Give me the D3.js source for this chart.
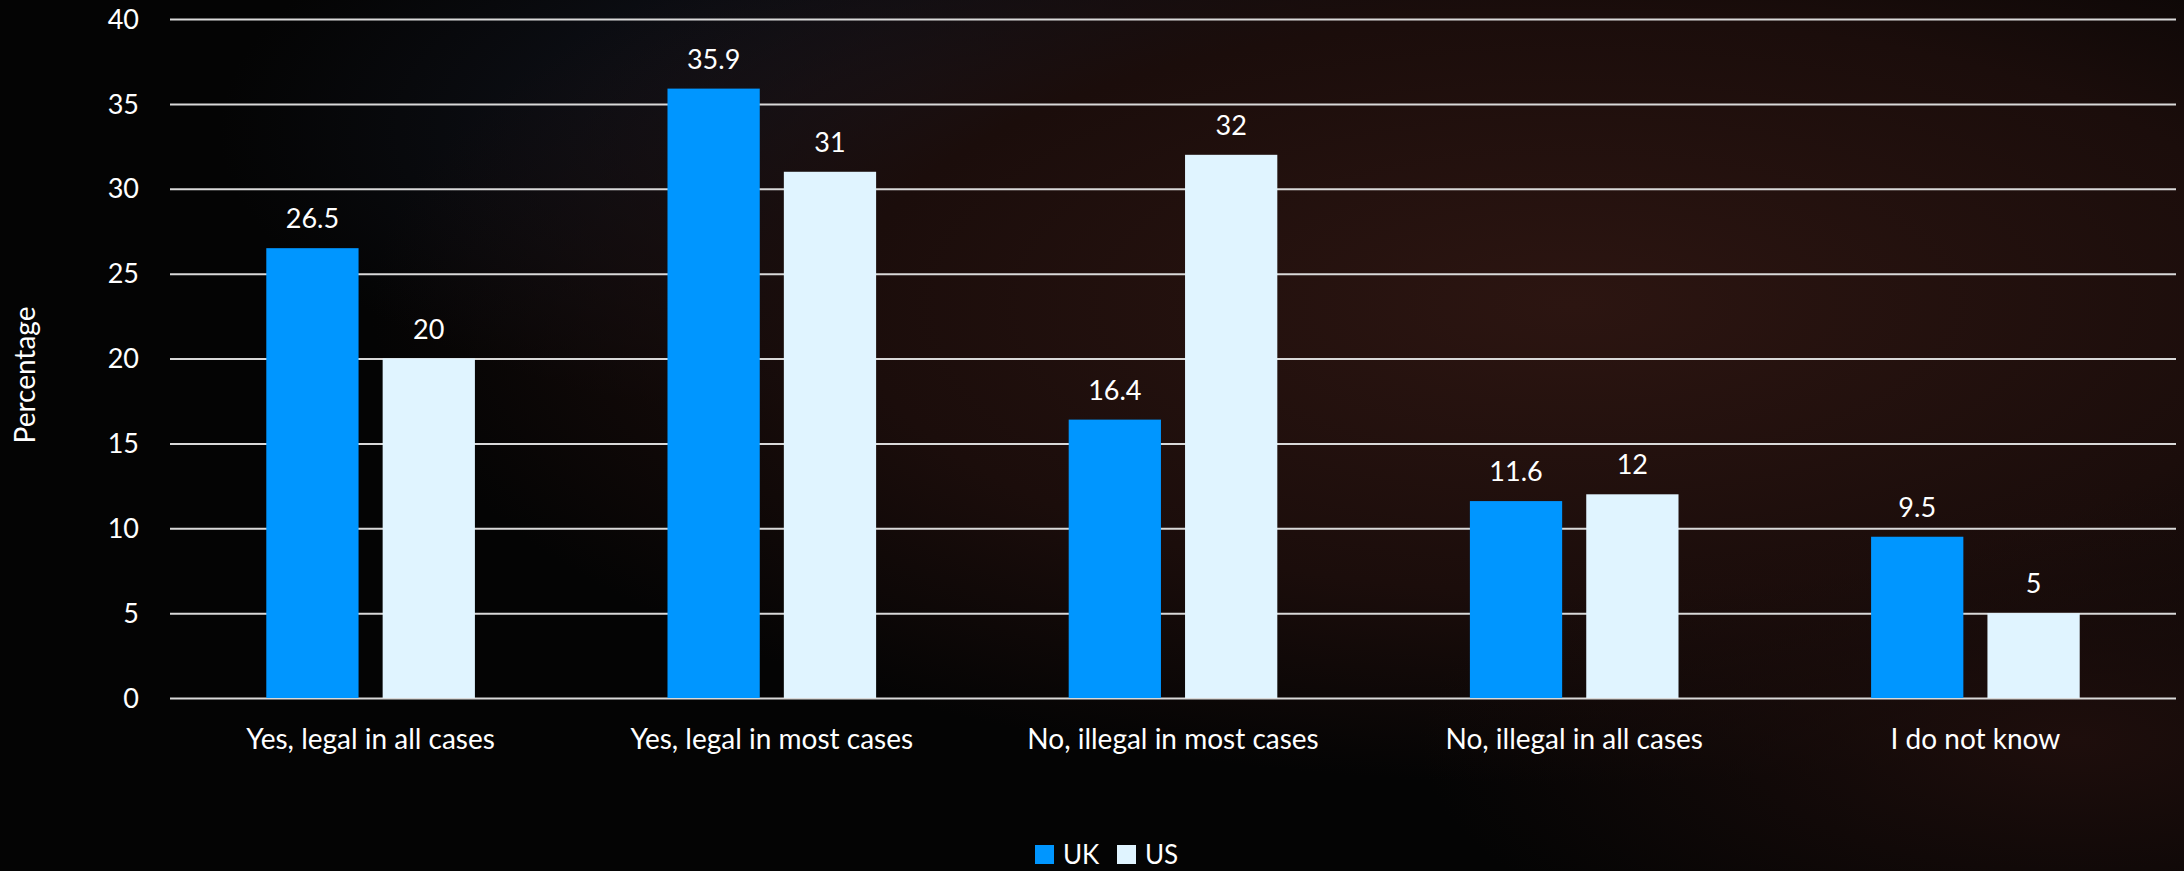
<!DOCTYPE html>
<html>
<head>
<meta charset="utf-8">
<script src="https://cdn.jsdelivr.net/npm/d3@7"></script>
<style>
  html, body { margin: 0; padding: 0; background: #050505; }
  svg { display: block; }
  text { font-family: Lato, "Open Sans", sans-serif; }
</style>
</head>
<body>
<svg id="chart" width="2184" height="871"></svg>
<script>
const categories = ["Yes, legal in all cases", "Yes, legal in most cases", "No, illegal in most cases", "No, illegal in all cases", "I do not know"];
const seriesNames = ["UK", "US"];
const ukValues = [26.5, 35.9, 16.4, 11.6, 9.5];
const usValues = [20, 31, 32, 12, 5];
const yTicks = [0, 5, 10, 15, 20, 25, 30, 35, 40];
const colors = ["#0096FF", "#E0F4FF"];

const W = 2184, H = 871;
const margin = {left: 170, right: 8, top: 19, bottom: 173};
const svg = d3.select("#chart");

// background approximation (dark textured photo)
const defs = svg.append("defs");
const g1 = defs.append("radialGradient").attr("id", "bgRed").attr("cx", "0.72").attr("cy", "0.35").attr("r", "0.55");
g1.append("stop").attr("offset", "0").attr("stop-color", "#2c1511");
g1.append("stop").attr("offset", "0.6").attr("stop-color", "#1b0d0b");
g1.append("stop").attr("offset", "1").attr("stop-color", "#1b0d0b").attr("stop-opacity", 0);
const g2 = defs.append("radialGradient").attr("id", "bgBlue").attr("cx", "0.45").attr("cy", "0.15").attr("r", "0.35");
g2.append("stop").attr("offset", "0").attr("stop-color", "#151926");
g2.append("stop").attr("offset", "1").attr("stop-color", "#151926").attr("stop-opacity", 0);
const g3 = defs.append("radialGradient").attr("id", "bgRed2").attr("cx", "0.95").attr("cy", "0.85").attr("r", "0.3");
g3.append("stop").attr("offset", "0").attr("stop-color", "#1e0e0c");
g3.append("stop").attr("offset", "1").attr("stop-color", "#1e0e0c").attr("stop-opacity", 0);
svg.append("rect").attr("width", W).attr("height", H).attr("fill", "#040404");
svg.append("rect").attr("width", W).attr("height", H).attr("fill", "url(#bgBlue)");
svg.append("rect").attr("width", W).attr("height", H).attr("fill", "url(#bgRed)");
svg.append("rect").attr("width", W).attr("height", H).attr("fill", "url(#bgRed2)");

const plotW = W - margin.left - margin.right;
const plotH = H - margin.top - margin.bottom;
const g = svg.append("g").attr("transform", `translate(${margin.left},${margin.top})`);

const x0 = d3.scaleBand().domain(categories).range([0, plotW]).paddingInner(0.48).paddingOuter(0.24);
const x1 = d3.scaleBand().domain(seriesNames).range([0, x0.bandwidth()]).paddingInner(0.207);
const y = d3.scaleLinear().domain([0, 40]).range([plotH, 0]);

// gridlines
const yAxis = d3.axisLeft(y).tickValues(yTicks).tickSize(-plotW).tickFormat(d3.format("d"));
const ya = g.append("g").call(yAxis);
ya.select(".domain").remove();
ya.selectAll(".tick line").attr("stroke", "#d9d9d9").attr("stroke-width", 2);
ya.selectAll(".tick text").attr("fill", "#ffffff").attr("font-size", 27).attr("x", -31).attr("dy", "0.34em");

const data = categories.map((c, i) => ({cat: c, vals: [ukValues[i], usValues[i]]}));
const groups = g.selectAll(".grp").data(data).enter().append("g")
  .attr("transform", d => `translate(${x0(d.cat)},0)`);
groups.selectAll("rect").data(d => d.vals.map((v, j) => ({s: seriesNames[j], v, j})))
  .enter().append("rect")
  .attr("x", d => x1(d.s)).attr("width", x1.bandwidth())
  .attr("y", d => y(d.v)).attr("height", d => plotH - y(d.v))
  .attr("fill", d => colors[d.j]);
groups.selectAll(".lbl").data(d => d.vals.map((v, j) => ({s: seriesNames[j], v, j})))
  .enter().append("text")
  .attr("x", d => x1(d.s) + x1.bandwidth() / 2).attr("y", d => y(d.v) - 20)
  .attr("text-anchor", "middle").attr("fill", "#ffffff").attr("font-size", 27)
  .text(d => d.v);

// x axis labels
const xa = g.append("g").attr("transform", `translate(0,${plotH})`)
  .call(d3.axisBottom(x0).tickSize(0).tickPadding(0));
xa.select(".domain").remove();
xa.selectAll(".tick text").attr("fill", "#ffffff").attr("font-size", 28).attr("dy", 0).attr("y", 51);

// y axis title
svg.append("text").attr("transform", `translate(35,375) rotate(-90)`)
  .attr("text-anchor", "middle").attr("fill", "#ffffff").attr("font-size", 28).text("Percentage");

// legend
const leg = svg.append("g");
const legX = [1035, 1117];
seriesNames.forEach((s, i) => {
  leg.append("rect").attr("x", legX[i]).attr("y", 845).attr("width", 19).attr("height", 19).attr("fill", colors[i]);
  leg.append("text").attr("x", legX[i] + 28).attr("y", 864).attr("fill", "#ffffff").attr("font-size", 26).text(s);
});
</script>
</body>
</html>
